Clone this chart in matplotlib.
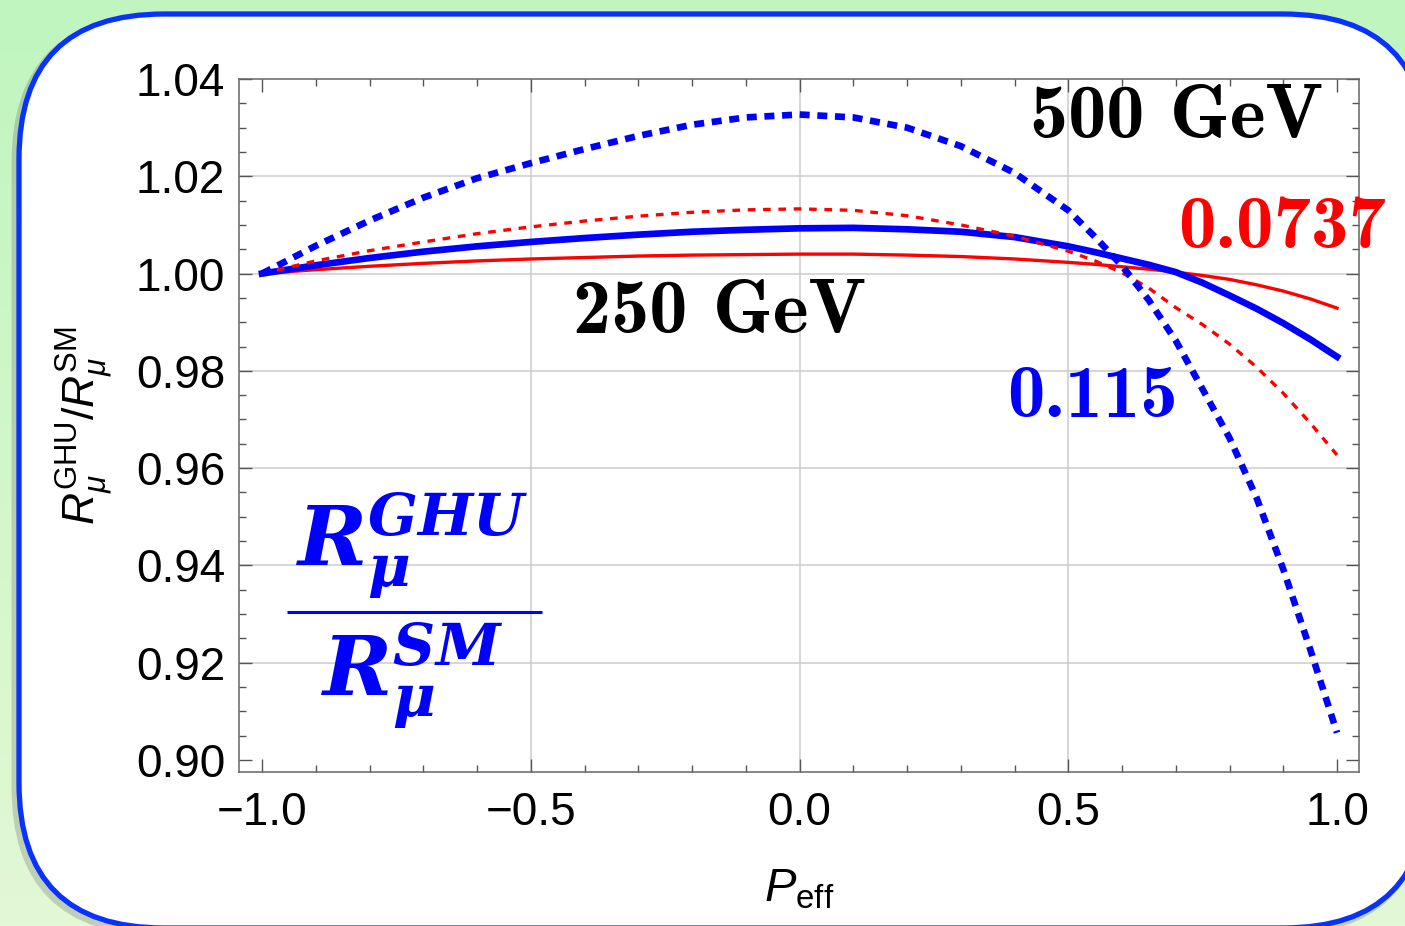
import numpy as np
import matplotlib
matplotlib.use('Agg')
import matplotlib.pyplot as plt
from matplotlib.patches import FancyBboxPatch
from matplotlib.transforms import IdentityTransform
from matplotlib.ticker import FixedLocator

# ---------------- data ----------------
P = [-1.0, -0.9, -0.8, -0.7, -0.6, -0.5, -0.4, -0.3, -0.2, -0.1, 0.0,
     0.1, 0.2, 0.3, 0.4, 0.5, 0.55, 0.6, 0.65, 0.7, 0.75, 0.8, 0.85, 0.9, 0.95, 1.0]

# 500 GeV, 0.115 (blue dotted)
blue_500 = [1.0000, 1.0057, 1.0109, 1.0156, 1.0196, 1.0227, 1.0256, 1.0283, 1.0306, 1.0321, 1.0327,
            1.0321, 1.0300, 1.0262, 1.0207, 1.0130, 1.0075, 1.0016, 0.9945, 0.9862, 0.9762,
            0.9662, 0.9540, 0.9392, 0.9228, 0.9056]
# 500 GeV, 0.0737 (red dotted)
red_500 = [1.0000, 1.0026, 1.0047, 1.0065, 1.0082, 1.0096, 1.0108, 1.0118, 1.0126, 1.0131, 1.0133,
           1.0130, 1.0119, 1.0100, 1.0077, 1.0046, 1.0026, 1.0002, 0.9970, 0.9930, 0.9895,
           0.9855, 0.9808, 0.9754, 0.9693, 0.9627]
# 250 GeV, 0.115 (blue solid)
blue_250 = [1.0000, 1.0017, 1.0032, 1.0045, 1.0056, 1.0065, 1.0073, 1.0080, 1.0086, 1.0090, 1.0093,
            1.0094, 1.0091, 1.0086, 1.0075, 1.0056, 1.0044, 1.0031, 1.0018, 1.0003, 0.9981,
            0.9955, 0.9928, 0.9898, 0.9865, 0.9829]
# 250 GeV, 0.0737 (red solid)
red_250 = [1.0000, 1.0008, 1.0015, 1.0021, 1.0026, 1.0030, 1.0033, 1.0036, 1.0038, 1.0039, 1.0040,
           1.0040, 1.0038, 1.0035, 1.0030, 1.0023, 1.0019, 1.0014, 1.0009, 1.0003, 0.9996,
           0.9988, 0.9977, 0.9964, 0.9948, 0.9929]

xticks = [-1.0, -0.5, 0.0, 0.5, 1.0]
xticklabels = ['\u22121.0', '\u22120.5', '0.0', '0.5', '1.0']
yticks = [0.90, 0.92, 0.94, 0.96, 0.98, 1.00, 1.02, 1.04]
yticklabels = ['0.90', '0.92', '0.94', '0.96', '0.98', '1.00', '1.02', '1.04']

# ---------------- style ----------------
plt.rcParams['font.family'] = ['Liberation Sans', 'DejaVu Sans']
plt.rcParams['mathtext.fontset'] = 'custom'
plt.rcParams['mathtext.rm'] = 'Liberation Sans'
plt.rcParams['mathtext.it'] = 'Liberation Sans:italic'
plt.rcParams['mathtext.bf'] = 'Liberation Sans:bold'

W, H = 1405, 926
fig = plt.figure(figsize=(W / 100, H / 100), dpi=100)

# gradient background
bg = fig.add_axes([0, 0, 1, 1], zorder=-10)
g = np.linspace(0, 1, 256)[:, None, None]
top = np.array([192, 245, 191]) / 255.0
bot = np.array([227, 248, 213]) / 255.0
img = top + (bot - top) * g
bg.imshow(img, aspect='auto', extent=[0, 1, 0, 1], origin='upper')
bg.set_axis_off()

# rounded white box with blue border (pixel coordinates)
shadow = FancyBboxPatch((15, -6), 1409, 914, boxstyle='round,pad=0,rounding_size=145',
                        transform=IdentityTransform(), facecolor='none',
                        edgecolor=(0.35, 0.35, 0.35, 0.25), linewidth=5, zorder=-6)
box = FancyBboxPatch((19, -2), 1409, 914, boxstyle='round,pad=0,rounding_size=145',
                     transform=IdentityTransform(), facecolor='white',
                     edgecolor='#0a32ff', linewidth=3.8, zorder=-5)
fig.add_artist(shadow)
fig.add_artist(box)

ax = fig.add_axes([239 / W, 1 - 772 / H, 1120 / W, 693 / H])
ax.set_facecolor('white')
ax.set_xlim(-1.0428, 1.0409)
ax.set_ylim(0.89753, 1.04)

for x in [-0.5, 0.0, 0.5]:
    ax.axvline(x, color='#cccccc', lw=1.1, zorder=0.5)
for y in [0.92, 0.94, 0.96, 0.98, 1.00, 1.02]:
    ax.axhline(y, color='#cccccc', lw=1.1, zorder=0.5)

ax.plot(P, red_250, color='#ff0000', lw=2.4, zorder=2)
ax.plot(P, blue_250, color='#0000ff', lw=4.8, zorder=2.1)
ax.plot(P, red_500, color='#ff0000', lw=2.4, dashes=(2.3, 2.3), dash_capstyle='butt', zorder=2.2)
ax.plot(P, blue_500, color='#0000ff', lw=4.8, dashes=(1.5, 1.15), dash_capstyle='butt', zorder=2.3)

ax.set_xticks(xticks)
ax.set_xticklabels(xticklabels)
ax.set_yticks(yticks)
ax.set_yticklabels(yticklabels)
ax.xaxis.set_minor_locator(FixedLocator(np.round(np.arange(-1.0, 1.0001, 0.1), 3)))
ax.yaxis.set_minor_locator(FixedLocator(np.round(np.arange(0.90, 1.0401, 0.005), 4)))
ax.tick_params(which='both', direction='in', top=True, right=True, color='#555555', width=1.0)
ax.tick_params(which='major', length=9.5, labelsize=33)
ax.tick_params(which='minor', length=5)
ax.tick_params(axis='y', which='major', pad=10)
ax.tick_params(axis='x', which='major', pad=14)
for s in ax.spines.values():
    s.set_color('#666666')
    s.set_linewidth(1.1)

ax.set_xlabel(r'$P_{\mathrm{eff}}$', fontsize=34)
ax.xaxis.set_label_coords(0.5, -0.1385)
ax.set_ylabel(r'$R_\mu^{\mathrm{GHU}}/R_\mu^{\mathrm{SM}}$', fontsize=32)
ax.yaxis.set_label_coords(-0.111, 0.5)

# annotations (Computer Modern bold)
cmb = ['cmb10', 'DejaVu Serif']
ax.text(0.4288, 1.02788, '500 GeV', family=cmb, fontsize=55,
        ha='left', va='baseline', color='black', zorder=5)
ax.text(-0.4214, 0.98779, '250 GeV', family=cmb, fontsize=55,
        ha='left', va='baseline', color='black', zorder=5)
ax.text(0.7042, 1.00526, '0.0737', family=cmb, fontsize=54,
        ha='left', va='baseline', color='#ff0000', zorder=5)
ax.text(0.386, 0.97052, '0.115', family=cmb, fontsize=54,
        ha='left', va='baseline', color='#0000ff', zorder=5)

ax.text(-0.72, 0.9401, r'$\mathbfit{R}^{\mathbfit{GHU}}_{\mathbfit{\mu}}$', math_fontfamily='dejavuserif',
        fontsize=60, ha='center', va='baseline', color='#0000ff', zorder=5)
ax.text(-0.72, 0.9134, r'$\mathbfit{R}^{\mathbfit{SM}}_{\mathbfit{\mu}}$', math_fontfamily='dejavuserif',
        fontsize=60, ha='center', va='baseline', color='#0000ff', zorder=5)
ax.plot([-0.9534, -0.4791], [0.93044, 0.93044], color='#0000ff', lw=2.2, zorder=5,
        solid_capstyle='butt')

fig.savefig('out.png', dpi=100)
